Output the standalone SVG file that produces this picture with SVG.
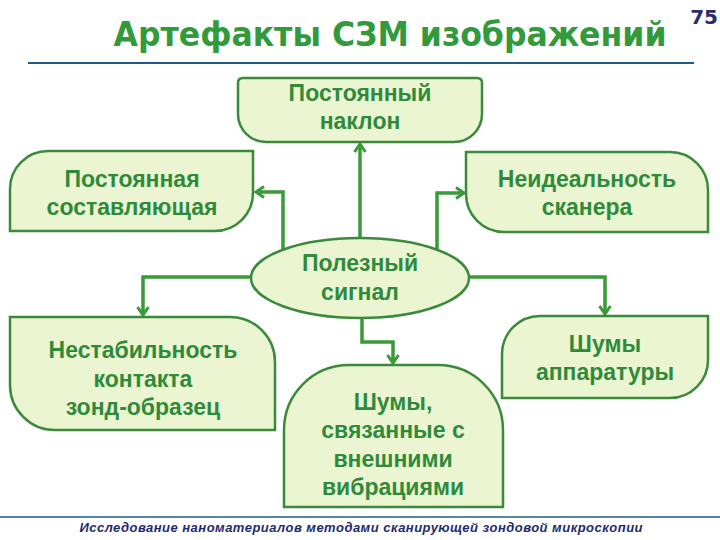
<svg xmlns="http://www.w3.org/2000/svg" width="720" height="540" viewBox="0 0 720 540">
<defs>
<style>
.box{fill:#ebf5d2;stroke:#3b8a3b;stroke-width:2.5}
.t{font-family:"Liberation Sans",Arial,sans-serif;font-weight:bold;font-size:23px;fill:#2f8a3a;text-anchor:middle}
.c{fill:none;stroke:#3a9a3a;stroke-width:3.5;marker-end:url(#ah)}
</style>
<marker id="ah" viewBox="0 0 14 14" markerWidth="14" markerHeight="14" refX="11" refY="7" orient="auto" markerUnits="userSpaceOnUse">
<path d="M3,1.5 L11,7 L3,12.5" fill="none" stroke="#3a9a3a" stroke-width="3"/>
</marker>
</defs>
<rect width="720" height="540" fill="#ffffff"/>
<text x="390" y="46" font-family="'DejaVu Sans',Verdana,sans-serif" font-weight="bold" font-size="33" fill="#339a3c" text-anchor="middle" textLength="553" lengthAdjust="spacingAndGlyphs">Артефакты СЗМ изображений</text>
<text x="718" y="24" font-family="'DejaVu Sans',Verdana,sans-serif" font-weight="bold" font-size="20" fill="#2b2b6e" text-anchor="end">75</text>
<line x1="28" y1="63" x2="694" y2="63" stroke="#1f5a8a" stroke-width="2"/>
<line x1="0" y1="517" x2="720" y2="517" stroke="#1f5a8a" stroke-width="1.5"/>
<text x="361" y="532" font-family="'Liberation Sans',Arial,sans-serif" font-weight="bold" font-style="italic" font-size="13" fill="#1f2a6e" text-anchor="middle" textLength="563" lengthAdjust="spacing">Исследование наноматериалов методами сканирующей зондовой микроскопии</text>

<g id="connectors">
<path class="c" d="M360,238 V144"/>
<path class="c" d="M283,250 V192 H256"/>
<path class="c" d="M437,250 V193 H464"/>
<path class="c" d="M251,277 H143 V315"/>
<path class="c" d="M469,277 H605 V314"/>
<path class="c" d="M362,318 V342 H393 V363"/>
</g>

<g id="n-tilt">
<path class="box" d="M243,78 H477 Q482,78 482,83 V114 A28,28 0 0 1 454,142 H266 A28,28 0 0 1 238,114 V83 Q238,78 243,78 Z"/>
<text class="t" x="360" y="101">Постоянный</text>
<text class="t" x="360" y="129">наклон</text>
</g>
<g id="n-const">
<path class="box" d="M10,231 V189 A38,38 0 0 1 48,151 H253 V193 A38,38 0 0 1 215,231 Z"/>
<text class="t" x="132" y="187">Постоянная</text>
<text class="t" x="132" y="215">составляющая</text>
</g>
<g id="n-scanner">
<path class="box" d="M466,152 H670 A38,38 0 0 1 708,190 V232 H504 A38,38 0 0 1 466,194 Z"/>
<text class="t" x="587" y="187">Неидеальность</text>
<text class="t" x="587" y="215">сканера</text>
</g>
<g id="n-signal">
<ellipse class="box" cx="360" cy="278" rx="109" ry="40"/>
<text class="t" x="360" y="271">Полезный</text>
<text class="t" x="360" y="300">сигнал</text>
</g>
<g id="n-contact">
<path class="box" d="M10,317 H230 A45,45 0 0 1 275,362 V430 H55 A45,45 0 0 1 10,385 Z"/>
<text class="t" x="143" y="358">Нестабильность</text>
<text class="t" x="143" y="387">контакта</text>
<text class="t" x="143" y="415">зонд-образец</text>
</g>
<g id="n-vibr">
<path class="box" d="M284,507 V430 A65,65 0 0 1 349,365 H438 A65,65 0 0 1 503,430 V507 Z"/>
<text class="t" x="393" y="410">Шумы,</text>
<text class="t" x="393" y="438">связанные с</text>
<text class="t" x="393" y="467">внешними</text>
<text class="t" x="393" y="495">вибрациями</text>
</g>
<g id="n-noise">
<path class="box" d="M502,398 V354 A38,38 0 0 1 540,316 H708 V360 A38,38 0 0 1 670,398 Z"/>
<text class="t" x="605" y="352">Шумы</text>
<text class="t" x="605" y="380">аппаратуры</text>
</g>
</svg>
